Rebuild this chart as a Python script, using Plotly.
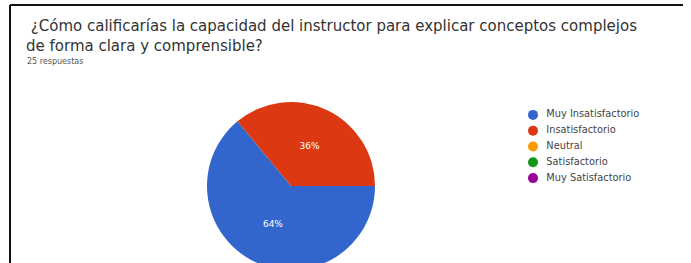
import plotly.graph_objects as go

title_lines = ["¿Cómo calificarías la capacidad del instructor para explicar conceptos complejos",
               "de forma clara y comprensible?"]
subtitle = "25 respuestas"
labels = ["Muy Insatisfactorio", "Insatisfactorio", "Neutral", "Satisfactorio", "Muy Satisfactorio"]
values = [16, 9, 0, 0, 0]
colors = ["#3366cc", "#dc3912", "#ff9900", "#109618", "#990099"]

W, H = 691, 272
fig = go.Figure()
fig.add_trace(go.Pie(
    labels=labels, values=values, sort=False, direction="clockwise", rotation=90,
    marker=dict(colors=colors, line=dict(width=0)),
    textinfo="percent", texttemplate="%{percent:.0%}", textposition="inside",
    insidetextfont=dict(color="white", size=9, family="DejaVu Sans"),
    showlegend=False, hoverinfo="label+percent",
    domain=dict(x=[(291 - 86) / W, (291 + 86) / W], y=[(H - 186 - 84) / H, (H - 186 + 84) / H]),
))

# legend drawn as a small scatter on its own axes
idx = list(range(len(labels)))
fig.add_trace(go.Scatter(
    x=[0] * len(labels), y=idx, mode="markers",
    marker=dict(color=colors, size=10, symbol="circle"),
    cliponaxis=False, showlegend=False, hoverinfo="skip", xaxis="x2", yaxis="y2",
))
fig.add_trace(go.Scatter(
    x=[0.085] * len(labels), y=idx, mode="text", text=labels, textposition="middle right",
    textfont=dict(family="DejaVu Sans", size=9.8, color="#444444"),
    cliponaxis=False, showlegend=False, hoverinfo="skip", xaxis="x2", yaxis="y2",
))

fig.add_annotation(text=" " + title_lines[0] + "<br>" + title_lines[1],
                   x=24 / W, y=1 - 36.5 / H, xref="paper", yref="paper", align="left",
                   xanchor="left", yanchor="middle", showarrow=False,
                   font=dict(family="DejaVu Sans", size=15, color="#333333"))
fig.add_annotation(text=subtitle, x=25 / W, y=1 - 62 / H, xref="paper", yref="paper",
                   xanchor="left", yanchor="middle", showarrow=False,
                   font=dict(family="DejaVu Sans", size=8, color="#555555"))

fig.add_shape(type="line", xref="paper", yref="paper", x0=10 / W, x1=683 / W, y0=1 - 5 / H, y1=1 - 5 / H,
              line=dict(color="#111111", width=2))
fig.add_shape(type="line", xref="paper", yref="paper", x0=10 / W, x1=10 / W, y0=0, y1=1 - 5 / H,
              line=dict(color="#111111", width=2))

fig.update_layout(
    width=W, height=H, margin=dict(l=0, r=0, t=0, b=0),
    paper_bgcolor="white", plot_bgcolor="white",
    xaxis2=dict(domain=[533 / W, 690 / W], range=[0, 1], visible=False, fixedrange=True),
    yaxis2=dict(domain=[(H - 186) / H, (H - 107) / H], range=[4.5, -0.5], visible=False,
                fixedrange=True, anchor="x2"),
    showlegend=False,
)
fig.write_html("out.html", config={"displayModeBar": False},
               post_script="document.body.style.margin='0';document.body.style.overflow='hidden';")
